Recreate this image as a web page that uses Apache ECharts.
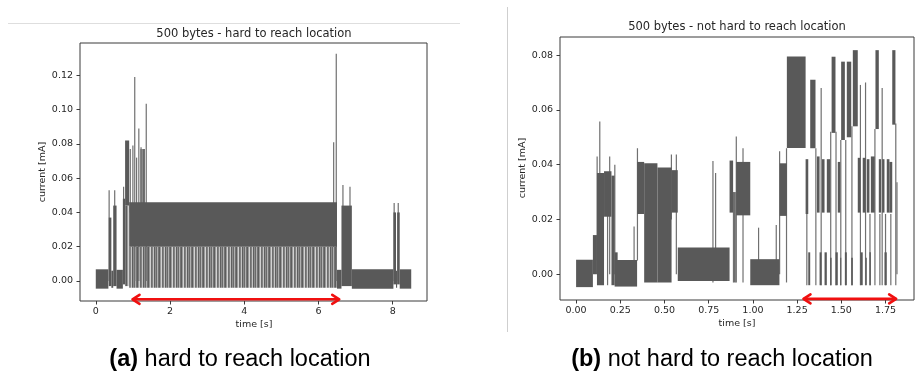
<!DOCTYPE html>
<html>
<head>
<meta charset="utf-8">
<script src="https://cdn.jsdelivr.net/npm/echarts@6/dist/echarts.min.js"></script>
<style>
  html, body { margin: 0; padding: 0; background: #fff; }
  #chart { width: 923px; height: 376px; }
</style>
</head>
<body>
<div id="chart"></div>
<script>
var leftBands = [
  [0.00, 0.34, -0.0045, 0.0068],
  [0.35, 0.42, -0.003, 0.037],
  [0.42, 0.47, -0.004, 0.006],
  [0.47, 0.56, -0.003, 0.044],
  [0.56, 0.73, -0.0045, 0.0065],
  [0.73, 0.79, -0.002, 0.048],
  [0.79, 0.90, 0.044, 0.082],
  [0.90, 6.50, 0.020, 0.046],
  [6.50, 6.62, -0.0045, 0.0065],
  [6.62, 6.90, -0.003, 0.044],
  [6.90, 8.02, -0.0045, 0.0068],
  [8.02, 8.09, -0.002, 0.040],
  [8.09, 8.12, -0.004, 0.006],
  [8.12, 8.19, -0.002, 0.040],
  [8.19, 8.50, -0.0045, 0.0068]
];
// lighter, striped parts of the trace
var leftLight = [
  [0.79, 0.90, -0.003, 0.044],
  [0.90, 6.50, -0.004, 0.020],
  [1.20, 1.32, 0.045, 0.077]
];
// single spikes [t, low, high]
var leftSpikes = [
  [0.36, 0.0, 0.053], [0.51, 0.0, 0.053], [0.75, 0.0, 0.055],
  [0.93, 0.04, 0.077], [1.00, 0.04, 0.079], [1.05, 0.0, 0.119],
  [1.10, 0.04, 0.072], [1.16, 0.0, 0.089], [1.22, 0.04, 0.078],
  [1.27, 0.04, 0.077], [1.31, 0.04, 0.077], [1.36, 0.0, 0.1035],
  [6.41, 0.02, 0.081], [6.48, 0.0, 0.1326],
  [6.66, 0.0, 0.056], [6.85, 0.0, 0.055],
  [8.04, 0.0, 0.0455], [8.15, 0.0, 0.0455]
];

var rightBands = [
  [0.000, 0.095, -0.0047, 0.0053],
  [0.095, 0.118, 0.000, 0.0143],
  [0.118, 0.158, -0.004, 0.037],
  [0.158, 0.200, 0.021, 0.0376],
  [0.200, 0.218, -0.004, 0.036],
  [0.218, 0.235, 0.000, 0.008],
  [0.218, 0.345, -0.0045, 0.0052],
  [0.345, 0.385, 0.022, 0.041],
  [0.385, 0.460, -0.003, 0.0405],
  [0.460, 0.540, -0.003, 0.039],
  [0.540, 0.575, 0.0225, 0.038],
  [0.575, 0.868, -0.0025, 0.0098],
  [0.868, 0.888, 0.0225, 0.0415],
  [0.905, 0.985, 0.0215, 0.041],
  [0.985, 1.150, -0.004, 0.0055],
  [1.152, 1.192, 0.0213, 0.0405],
  [1.192, 1.298, 0.0461, 0.0795],
  [1.298, 1.313, 0.022, 0.042],
  [1.313, 1.324, -0.004, 0.008],
  [1.324, 1.354, 0.046, 0.071],
  [1.362, 1.377, 0.0225, 0.043],
  [1.377, 1.388, -0.004, 0.008],
  [1.390, 1.405, 0.0225, 0.042],
  [1.405, 1.418, -0.004, 0.008],
  [1.418, 1.437, 0.0225, 0.042],
  [1.437, 1.445, -0.004, 0.006],
  [1.445, 1.467, 0.0516, 0.0794],
  [1.467, 1.480, -0.004, 0.008],
  [1.480, 1.494, 0.0225, 0.041],
  [1.494, 1.499, -0.004, 0.006],
  [1.499, 1.520, 0.049, 0.0776],
  [1.520, 1.531, -0.004, 0.008],
  [1.531, 1.556, 0.050, 0.0776],
  [1.556, 1.565, -0.004, 0.006],
  [1.565, 1.593, 0.054, 0.0818],
  [1.593, 1.607, 0.0225, 0.0425],
  [1.608, 1.621, -0.004, 0.008],
  [1.621, 1.637, 0.0225, 0.0425],
  [1.637, 1.644, -0.004, 0.006],
  [1.644, 1.659, 0.0225, 0.042],
  [1.659, 1.667, -0.004, 0.008],
  [1.667, 1.689, 0.0225, 0.043],
  [1.693, 1.712, 0.053, 0.0818],
  [1.712, 1.725, 0.0225, 0.042],
  [1.731, 1.744, 0.0225, 0.042],
  [1.744, 1.757, -0.004, 0.008],
  [1.757, 1.772, 0.0225, 0.042],
  [1.772, 1.788, 0.0225, 0.041],
  [1.788, 1.806, 0.0546, 0.0818],
  [1.812, 1.816, 0.000, 0.0336]
];
var rightLight = [
  [0.888, 0.905, -0.003, 0.030]
];
var rightSpikes = [
  [0.119, 0.005, 0.043], [0.134, 0.0, 0.0558], [0.178, -0.004, 0.030],
  [0.190, 0.0, 0.043], [0.219, 0.0, 0.040], [0.328, 0.0, 0.0174],
  [0.347, 0.005, 0.046], [0.539, 0.02, 0.0437], [0.567, 0.0, 0.0437],
  [0.774, -0.003, 0.0413], [0.789, 0.0, 0.037], [0.890, -0.003, 0.030],
  [0.906, -0.003, 0.0503], [0.944, -0.003, 0.046], [1.032, 0.0, 0.017],
  [1.132, 0.0, 0.018], [1.151, 0.0, 0.0449], [1.190, -0.003, 0.046],
  [1.305, -0.004, 0.022], [1.356, -0.004, 0.046], [1.386, -0.004, 0.068],
  [1.440, -0.004, 0.052], [1.470, -0.004, 0.052], [1.497, -0.004, 0.049],
  [1.525, -0.004, 0.049], [1.560, -0.004, 0.054], [1.608, -0.004, 0.0691],
  [1.637, -0.004, 0.070], [1.662, -0.004, 0.022], [1.690, -0.004, 0.053],
  [1.718, -0.004, 0.022], [1.731, -0.004, 0.068], [1.750, -0.004, 0.022],
  [1.780, -0.004, 0.022], [1.808, -0.004, 0.055]
];

// red double arrows under the traces [t0, t1, y]
var leftArrow = [[0.99, 6.56, -0.0107]];
var rightArrow = [[1.286, 1.81, -0.0090]];

var leftXTicks = [0, 2, 4, 6, 8];
var leftYTicks = [0, 0.02, 0.04, 0.06, 0.08, 0.10, 0.12];
var rightXTicks = [0, 0.25, 0.5, 0.75, 1.0, 1.25, 1.5, 1.75];
var rightYTicks = [0, 0.02, 0.04, 0.06, 0.08];

var TXT = '#262626';
var FRAME = '#3a3a3a';
var DARK = '#595959';
var SPIKE = '#707070';
var FONT = '"Liberation Sans", Arial, sans-serif';

// striped texture for the sparse parts of the trace
var stripes = document.createElement('canvas');
stripes.width = 11;
stripes.height = 4;
(function () {
  var ctx = stripes.getContext('2d');
  var cols = ['#5f5f5f', '#8d8d8d', '#6a6a6a', '#b0b0b0', '#747474', '#5d5d5d', '#9a9a9a', '#d2d2d2', '#6e6e6e', '#838383', '#c4c4c4'];
  for (var i = 0; i < cols.length; i++) {
    ctx.fillStyle = cols[i];
    ctx.fillRect(i, 0, 1, 4);
  }
})();
var LIGHT = { image: stripes, repeat: 'repeat' };

function bandRender(color) {
  return function (params, api) {
    var p0 = api.coord([api.value(0), api.value(3)]);
    var p1 = api.coord([api.value(1), api.value(2)]);
    return {
      type: 'rect',
      shape: { x: p0[0], y: p0[1], width: Math.max(1, p1[0] - p0[0]), height: p1[1] - p0[1] },
      style: { fill: color }
    };
  };
}

function spikeRender(params, api) {
  var a = api.coord([api.value(0), api.value(1)]);
  var b = api.coord([api.value(0), api.value(2)]);
  return {
    type: 'line',
    shape: { x1: a[0], y1: a[1], x2: b[0], y2: b[1] },
    style: { stroke: SPIKE, lineWidth: 1.2 }
  };
}

function arrowRender(params, api) {
  var a = api.coord([api.value(0), api.value(2)]);
  var b = api.coord([api.value(1), api.value(2)]);
  var s = { stroke: '#f01010', lineWidth: 2.6, fill: null, lineCap: 'round', lineJoin: 'round' };
  return {
    type: 'group',
    children: [
      { type: 'line', shape: { x1: a[0] + 1, y1: a[1], x2: b[0] - 1, y2: b[1] }, style: s },
      { type: 'polyline', shape: { points: [[a[0] + 7, a[1] - 4.5], [a[0], a[1]], [a[0] + 7, a[1] + 4.5]] }, style: s },
      { type: 'polyline', shape: { points: [[b[0] - 7, b[1] - 4.5], [b[0], b[1]], [b[0] - 7, b[1] + 4.5]] }, style: s }
    ]
  };
}

function axisCfg(idx, min, max, ticks, digits, margin) {
  return {
    type: 'value', gridIndex: idx, min: min, max: max,
    axisLine: { show: false, onZero: false },
    splitLine: { show: false },
    axisTick: { show: true, length: 3.5, customValues: ticks, lineStyle: { color: FRAME } },
    axisLabel: {
      customValues: ticks, margin: margin, color: TXT, fontSize: 9.5, fontFamily: 'DejaVu Sans',
      formatter: function (v) { return v.toFixed(digits); }
    }
  };
}

function series(data, render, axis, z) {
  return {
    type: 'custom', xAxisIndex: axis, yAxisIndex: axis, data: data,
    renderItem: render, z: z, silent: true, animation: false,
    encode: { x: 0, y: data.length && data[0].length === 4 ? [2, 3] : [1, 2] }
  };
}

function caption(x, tag, rest) {
  return {
    type: 'text', x: x, y: 360,
    style: {
      text: '{b|' + tag + '} ' + rest, fill: '#000',
      fontSize: 23.5, fontFamily: FONT,
      align: 'center', verticalAlign: 'middle',
      rich: { b: { fontSize: 23.5, fontFamily: FONT, fontWeight: 'bold', fill: '#000' } }
    }
  };
}

var chart = echarts.init(document.getElementById('chart'), null, { renderer: 'canvas' });

var option = {
  backgroundColor: '#fff',
  animation: false,
  grid: [
    { left: 80, top: 43, width: 347, height: 258, show: true, borderColor: FRAME, borderWidth: 1, backgroundColor: 'transparent' },
    { left: 560, top: 37, width: 354, height: 263, show: true, borderColor: FRAME, borderWidth: 1, backgroundColor: 'transparent' }
  ],
  xAxis: [
    axisCfg(0, -0.425, 8.925, leftXTicks, 0, 6),
    axisCfg(1, -0.091, 1.911, rightXTicks, 2, 6)
  ],
  yAxis: [
    axisCfg(0, -0.0117, 0.1389, leftYTicks, 2, 7),
    axisCfg(1, -0.0094, 0.0866, rightYTicks, 2, 7)
  ],
  series: [
    series(leftLight, bandRender(LIGHT), 0, 2),
    series(leftSpikes, spikeRender, 0, 3),
    series(leftBands, bandRender(DARK), 0, 4),
    series(leftArrow, arrowRender, 0, 6),
    series(rightLight, bandRender(LIGHT), 1, 2),
    series(rightSpikes, spikeRender, 1, 3),
    series(rightBands, bandRender(DARK), 1, 4),
    series(rightArrow, arrowRender, 1, 6)
  ],
  graphic: [
    { type: 'line', shape: { x1: 8, y1: 23.5, x2: 460, y2: 23.5 }, style: { stroke: '#dedede', lineWidth: 1 }, silent: true },
    { type: 'line', shape: { x1: 507.5, y1: 7, x2: 507.5, y2: 332 }, style: { stroke: '#cfcfcf', lineWidth: 1 }, silent: true },
    { type: 'text', x: 254, y: 34, style: { text: '500 bytes - hard to reach location', fill: TXT, font: '11.5px "DejaVu Sans"', align: 'center', verticalAlign: 'middle' } },
    { type: 'text', x: 737, y: 27.5, style: { text: '500 bytes - not hard to reach location', fill: TXT, font: '11.5px "DejaVu Sans"', align: 'center', verticalAlign: 'middle' } },
    { type: 'text', x: 254, y: 325, style: { text: 'time [s]', fill: TXT, font: '9.5px "DejaVu Sans"', align: 'center', verticalAlign: 'middle' } },
    { type: 'text', x: 737, y: 324, style: { text: 'time [s]', fill: TXT, font: '9.5px "DejaVu Sans"', align: 'center', verticalAlign: 'middle' } },
    { type: 'text', x: 43, y: 172, rotation: Math.PI / 2, style: { text: 'current [mA]', fill: TXT, font: '9.5px "DejaVu Sans"', align: 'center', verticalAlign: 'middle' } },
    { type: 'text', x: 523, y: 168, rotation: Math.PI / 2, style: { text: 'current [mA]', fill: TXT, font: '9.5px "DejaVu Sans"', align: 'center', verticalAlign: 'middle' } },
    caption(240, '(a)', 'hard to reach location'),
    caption(722, '(b)', 'not hard to reach location')
  ]
};

chart.setOption(option);
</script>
</body>
</html>
